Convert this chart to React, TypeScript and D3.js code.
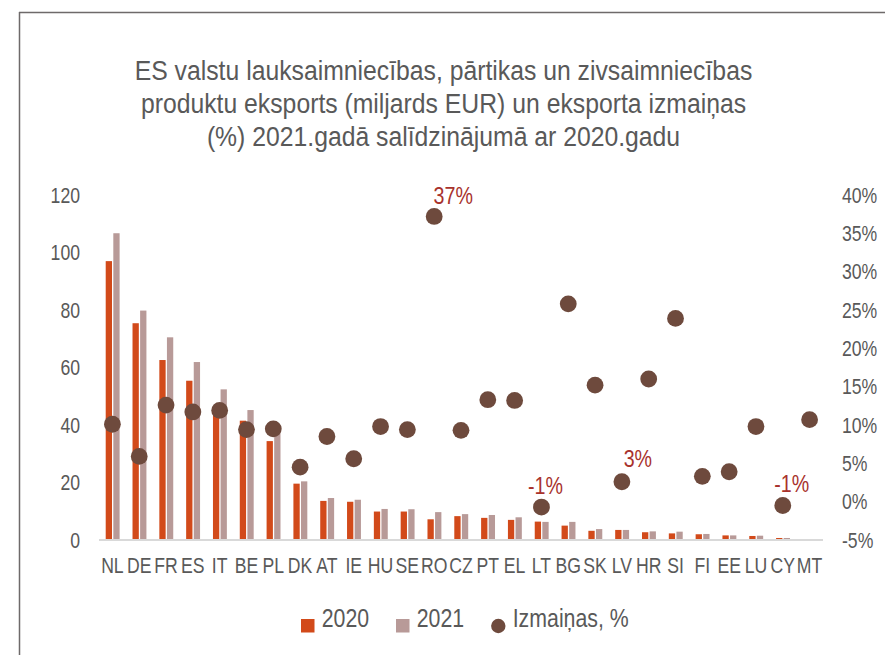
import React from "react";
import * as d3 from "d3";

const countries = ["NL","DE","FR","ES","IT","BE","PL","DK","AT","IE","HU","SE","RO","CZ","PT","EL","LT","BG","SK","LV","HR","SI","FI","EE","LU","CY","MT"];
const exports2020 = [97.0,75.4,62.6,55.4,46.5,41.5,34.4,19.6,13.6,13.3,9.9,9.9,7.2,8.3,7.7,7.0,6.4,5.0,3.2,3.5,2.7,2.3,2.0,1.6,1.4,0.7,0.3];
const exports2021 = [106.7,79.8,70.5,61.9,52.4,45.2,37.6,20.4,14.6,14.0,10.8,10.7,9.7,9.0,8.7,7.9,6.3,6.3,3.8,3.5,3.0,2.9,2.1,1.6,1.5,0.7,0.3];
const changePct = [10.1,5.9,12.6,11.7,11.9,9.4,9.5,4.5,8.5,5.6,9.8,9.4,37.2,9.3,13.3,13.2,-0.7,25.8,15.2,2.6,16.0,23.9,3.3,3.9,9.8,-0.5,10.7];
const pointLabels = [
  { country: "RO", text: "37%" },
  { country: "LT", text: "-1%" },
  { country: "LV", text: "3%" },
  { country: "CY", text: "-1%" },
];
const leftTicks = [0,20,40,60,80,100,120];
const rightTicks = [-5,0,5,10,15,20,25,30,35,40];
const titleLines = [
  "ES valstu lauksaimniecības, pārtikas un zivsaimniecības",
  "produktu eksports (miljards EUR) un eksporta izmaiņas",
  "(%) 2021.gadā salīdzinājumā ar 2020.gadu",
];
const legendItems = ["2020", "2021", "Izmaiņas, %"];

const C2020 = "#D24A1A";
const C2021 = "#B89A98";
const CDOT = "#6E4A3D";
const CLABEL = "#A8322C";
const CTEXT = "#595959";
const FONT = "'Liberation Sans', Arial, sans-serif";
const NARROW = 0.82;

const labelOffsets: Record<string, [number, number]> = {
  RO: [19, -12],
  LT: [4, -13],
  LV: [16, -15],
  CY: [9, -14],
};

function NText(props: { x: number; y: number; size: number; fill: string; anchor?: string; dy?: string; sx?: number; children: React.ReactNode }) {
  const { x, y, size, fill, anchor = "start", dy, sx = NARROW, children } = props;
  return (
    <text
      transform={`translate(${x},${y}) scale(${sx},1)`}
      dy={dy}
      textAnchor={anchor}
      fontSize={size}
      fill={fill}
    >
      {children}
    </text>
  );
}

export default function App() {
  const W = 885, H = 655;
  const x = d3.scaleBand<string>().domain(countries).range([99, 823]).padding(0);
  const yL = d3.scaleLinear().domain([0, 120]).range([540, 195]);
  const yR = d3.scaleLinear().domain([-5, 40]).range([540, 195]);
  const bw = x.bandwidth() * 0.235;
  const cx = (c: string) => (x(c) as number) + x.bandwidth() / 2;

  return (
    <svg width={W} height={H} style={{ position: "absolute", left: 0, top: 0, background: "#fff" }} fontFamily={FONT}>
      <rect x={0} y={0} width={W} height={H} fill="#fff" />
      <line x1={19} y1={12.5} x2={W} y2={12.5} stroke="#6E6A6A" strokeWidth={1.5} />
      <line x1={19.5} y1={12} x2={19.5} y2={H} stroke="#6E6A6A" strokeWidth={1.5} />

      {titleLines.map((t, i) => (
        <NText key={i} x={443.5} y={80 + i * 33} anchor="middle" size={27.5} sx={0.9} fill={CTEXT}>{t}</NText>
      ))}

      {leftTicks.map((t) => (
        <NText key={t} x={80} y={yL(t)} dy="0.35em" anchor="end" size={21.5} fill={CTEXT}>{t}</NText>
      ))}
      {rightTicks.map((t) => (
        <NText key={t} x={842} y={yR(t)} dy="0.35em" anchor="start" size={21.5} fill={CTEXT}>{t + "%"}</NText>
      ))}

      {countries.map((c, i) => (
        <g key={c}>
          <rect x={cx(c) - bw - 0.4} y={yL(exports2020[i])} width={bw} height={yL(0) - yL(exports2020[i])} fill={C2020} />
          <rect x={cx(c) + 0.9} y={yL(exports2021[i])} width={bw} height={yL(0) - yL(exports2021[i])} fill={C2021} />
        </g>
      ))}

      <line x1={99} y1={yL(0)} x2={823} y2={yL(0)} stroke="#D9D9D9" strokeWidth={2} />

      {countries.map((c) => (
        <NText key={c} x={cx(c)} y={573} anchor="middle" size={21.5} fill={CTEXT}>{c}</NText>
      ))}

      {countries.map((c, i) => (
        <circle key={c} cx={cx(c)} cy={yR(changePct[i])} r={8.4} fill={CDOT} />
      ))}

      {pointLabels.map((p) => {
        const i = countries.indexOf(p.country);
        const [dx, dy] = labelOffsets[p.country];
        return (
          <NText key={p.country} x={cx(p.country) + dx} y={yR(changePct[i]) + dy} anchor="middle" size={24} fill={CLABEL}>{p.text}</NText>
        );
      })}

      <g>
        <rect x={301} y={619} width={13.5} height={13.5} fill={C2020} />
        <NText x={321.7} y={627.3} size={26} fill={CTEXT}>{legendItems[0]}</NText>
        <rect x={396} y={619} width={13.5} height={13.5} fill={C2021} />
        <NText x={416.7} y={627.3} size={26} fill={CTEXT}>{legendItems[1]}</NText>
        <circle cx={498.3} cy={626} r={7.2} fill={CDOT} />
        <NText x={512.7} y={627.3} size={26} fill={CTEXT}>{legendItems[2]}</NText>
      </g>
    </svg>
  );
}
